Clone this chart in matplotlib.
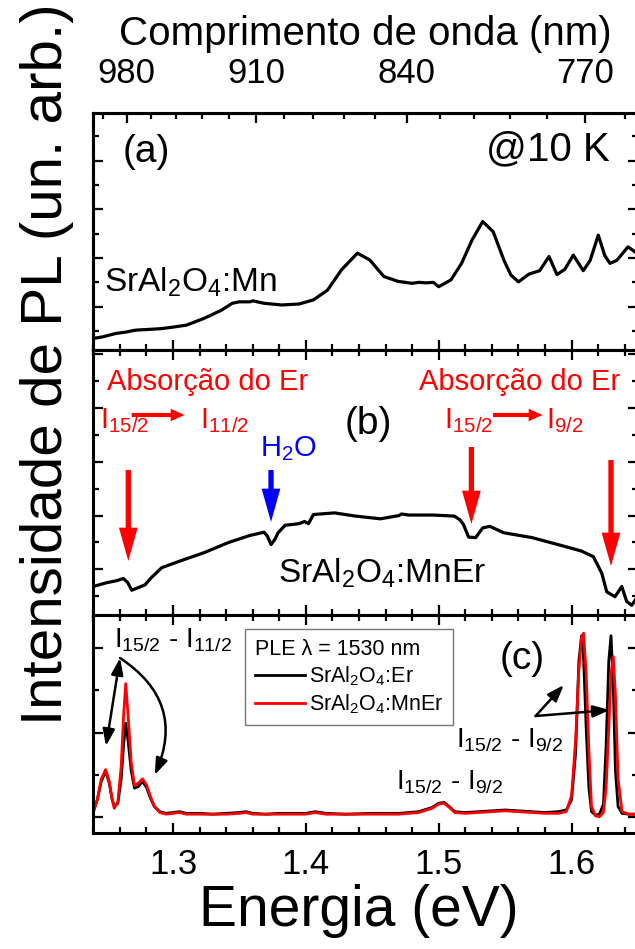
import matplotlib
matplotlib.use("Agg")
import matplotlib.pyplot as plt
from matplotlib.ticker import MultipleLocator, FixedLocator

plt.rcParams['font.family'] = ['Liberation Sans', 'DejaVu Sans']
plt.rcParams['mathtext.fontset'] = 'custom'
plt.rcParams['mathtext.rm'] = 'Liberation Sans'
plt.rcParams['mathtext.it'] = 'Liberation Sans:italic'
plt.rcParams['mathtext.bf'] = 'Liberation Sans:bold'

# ---------------- data ----------------
energy_a = [1.2405, 1.2470, 1.2570, 1.2650, 1.2700, 1.2730, 1.2800, 1.2915, 1.3000, 1.3100,
            1.3234, 1.3366, 1.3446, 1.3500, 1.3580, 1.3600, 1.3685, 1.3818, 1.3950, 1.4057,
            1.4163, 1.4269, 1.4388, 1.4481, 1.4587, 1.4694, 1.4800, 1.4850, 1.4906, 1.4960,
            1.5000, 1.5092, 1.5172, 1.5251, 1.5331, 1.5410, 1.5490, 1.5543, 1.5600, 1.5680,
            1.5760, 1.5830, 1.5890, 1.5950, 1.6013, 1.6088, 1.6140, 1.6201, 1.6250, 1.6289,
            1.6340, 1.6425, 1.6480]
pl_mn = [-0.65, -0.62, -0.55, -0.52, -0.49, -0.48, -0.47, -0.45, -0.42, -0.38,
         -0.24, -0.07, 0.07, 0.10, 0.10, 0.12, 0.07, 0.035, 0.055, 0.14,
         0.34, 0.76, 1.10, 0.96, 0.62, 0.52, 0.48, 0.50, 0.49, 0.50,
         0.41, 0.55, 0.89, 1.37, 1.75, 1.54, 0.96, 0.65, 0.51, 0.67,
         0.74, 1.03, 0.66, 0.77, 1.06, 0.74, 0.95, 1.47, 1.05, 0.89,
         0.95, 1.23, 1.12]

energy_b = [1.2400, 1.2500, 1.2580, 1.2626, 1.2660, 1.2689, 1.2720, 1.2789, 1.2835, 1.2915,
            1.3048, 1.3234, 1.3419, 1.3579, 1.3685, 1.3710, 1.3738, 1.3765, 1.3791, 1.3844,
            1.3950, 1.3990, 1.4020, 1.4057, 1.4216, 1.4375, 1.4561, 1.4700, 1.4720, 1.4773,
            1.4959, 1.5118, 1.5160, 1.5185, 1.5225, 1.5278, 1.5331, 1.5384, 1.5490, 1.5702,
            1.5913, 1.6074, 1.6164, 1.6227, 1.6265, 1.6327, 1.6378, 1.6415, 1.6453, 1.6480]
pl_mner = [-0.32, -0.25, -0.21, -0.17, -0.25, -0.39, -0.36, -0.29, -0.16, 0.03,
           0.15, 0.31, 0.50, 0.63, 0.69, 0.62, 0.46, 0.55, 0.68, 0.82,
           0.85, 0.89, 0.85, 1.02, 1.05, 0.99, 0.94, 1.00, 1.03, 1.01,
           1.01, 0.99, 0.92, 0.84, 0.60, 0.59, 0.77, 0.80, 0.68, 0.59,
           0.45, 0.34, 0.235, -0.07, -0.42, -0.51, -0.32, -0.60, -0.67, -0.57]

energy_c = [1.2400, 1.2430, 1.2460, 1.2493, 1.2520, 1.2540, 1.2558, 1.2585, 1.2610, 1.2628,
            1.2644, 1.2662, 1.2685, 1.2710, 1.2740, 1.2770, 1.2800, 1.2830, 1.2860, 1.2900,
            1.2950, 1.3000, 1.3050, 1.3100, 1.3200, 1.3300, 1.3400, 1.3500, 1.3550, 1.3600,
            1.3700, 1.3800, 1.3900, 1.4000, 1.4070, 1.4150, 1.4300, 1.4500, 1.4700, 1.4850,
            1.4950, 1.5000, 1.5040, 1.5080, 1.5120, 1.5200, 1.5300, 1.5400, 1.5500, 1.5600,
            1.5700, 1.5800, 1.5900, 1.5960, 1.6000, 1.6030, 1.6055, 1.6075, 1.6090, 1.6110,
            1.6130, 1.6150, 1.6180, 1.6210, 1.6240, 1.6260, 1.6280, 1.6297, 1.6314, 1.6330,
            1.6350, 1.6380, 1.6430, 1.6480]
ple_er = [0.07, 0.20, 0.42, 0.54, 0.40, 0.22, 0.12, 0.16, 0.45, 0.85,
          1.11, 0.90, 0.55, 0.34, 0.36, 0.42, 0.35, 0.22, 0.12, 0.06,
          0.04, 0.05, 0.06, 0.04, 0.04, 0.03, 0.04, 0.05, 0.06, 0.04,
          0.03, 0.04, 0.04, 0.04, 0.06, 0.04, 0.03, 0.04, 0.04, 0.06,
          0.11, 0.16, 0.17, 0.12, 0.06, 0.05, 0.06, 0.07, 0.08, 0.07,
          0.06, 0.05, 0.06, 0.08, 0.20, 0.75, 1.85, 2.15, 1.90, 1.05,
          0.35, 0.06, 0.02, 0.03, 0.15, 0.85, 1.85, 2.15, 1.55, 0.55,
          0.12, 0.04, 0.03, 0.03]
ple_mner = [0.05, 0.20, 0.45, 0.56, 0.42, 0.22, 0.10, 0.18, 0.60, 1.20,
            1.58, 1.20, 0.65, 0.37, 0.40, 0.45, 0.38, 0.24, 0.12, 0.05,
            0.03, 0.04, 0.05, 0.03, 0.03, 0.03, 0.03, 0.04, 0.05, 0.03,
            0.03, 0.03, 0.03, 0.03, 0.05, 0.03, 0.03, 0.03, 0.03, 0.05,
            0.10, 0.15, 0.16, 0.11, 0.05, 0.04, 0.05, 0.06, 0.07, 0.06,
            0.05, 0.04, 0.04, 0.06, 0.25, 0.90, 1.75, 2.12, 2.18, 1.70,
            0.80, 0.12, 0.01, 0.00, 0.05, 0.35, 1.05, 1.70, 1.90, 1.45,
            0.45, 0.06, 0.03, 0.03]

wavelength_major = [980, 910, 840, 770]
wavelength_minor = [994, 966, 952, 938, 924, 896, 882, 868, 854, 826, 812, 798, 784, 756]
HC = 1239.84

# ---------------- layout ----------------
W, H = 635, 949
fig = plt.figure(figsize=(W / 100, H / 100), dpi=100)


def fx(px):
    return px / W


def fy(py):
    return 1 - py / H


LEFT, RIGHT = 93.3, 638.0
tops = [113.3, 350.0, 615.0]
bots = [350.0, 615.0, 833.3]
ylims = [(-0.89, 3.973), (-0.851, 4.083), (-0.197, 2.396)]
XLIM = (1.24, 1.65)

axes = []
for t, b, yl in zip(tops, bots, ylims):
    ax = fig.add_axes([fx(LEFT), fy(b), fx(RIGHT - LEFT), (b - t) / H])
    ax.set_xlim(*XLIM)
    ax.set_ylim(*yl)
    ax.xaxis.set_major_locator(MultipleLocator(0.1))
    ax.xaxis.set_minor_locator(MultipleLocator(0.02))
    ax.yaxis.set_major_locator(MultipleLocator(1))
    ax.yaxis.set_minor_locator(MultipleLocator(0.5))
    ax.tick_params(which='both', direction='in', top=True, right=True,
                   labelleft=False, labelbottom=False, width=1.6)
    ax.tick_params(which='major', length=7)
    ax.tick_params(which='minor', length=4)
    for s in ax.spines.values():
        s.set_linewidth(2.2)
    axes.append(ax)

ax_a, ax_b, ax_c = axes
ax_a.tick_params(which='both', top=False)
ax_c.tick_params(which='major', labelbottom=True, labelsize=25, pad=10.5)

# top wavelength axis
ax_t = ax_a.twiny()
ax_t.set_xlim(*XLIM)
ax_t.xaxis.set_major_locator(FixedLocator([HC / w for w in wavelength_major]))
ax_t.xaxis.set_minor_locator(FixedLocator([HC / w for w in wavelength_minor]))
ax_t.set_xticklabels([str(w) for w in wavelength_major])
ax_t.tick_params(which='both', direction='in', width=1.6, labelsize=25, pad=17)
ax_t.tick_params(which='major', length=7)
ax_t.tick_params(which='minor', length=4)
for s in ax_t.spines.values():
    s.set_linewidth(2.2)

# ---------------- curves ----------------
ax_a.plot(energy_a, pl_mn, color='black', lw=2.3, solid_joinstyle='round')
ax_b.plot(energy_b, pl_mner, color='black', lw=2.3, solid_joinstyle='round')
l1, = ax_c.plot(energy_c, ple_er, color='black', lw=2.0, label=r'SrAl$_{\mathregular{2}}$O$_{\mathregular{4}}$:Er')
l2, = ax_c.plot(energy_c, ple_mner, color='#ff0000', lw=2.0, label=r'SrAl$_{\mathregular{2}}$O$_{\mathregular{4}}$:MnEr')

leg = ax_c.legend(handles=[l1, l2], title=u'PLE \u03bb = 1530 nm', loc='upper left',
                  bbox_to_anchor=(fx(245.3), fy(629.3)), bbox_transform=fig.transFigure,
                  borderaxespad=0, fontsize=15.5, title_fontsize=15.5, frameon=True,
                  fancybox=False, edgecolor='#555555', handlelength=2.3,
                  handletextpad=0.2, labelspacing=0.2, borderpad=0.45, alignment='left')
leg.get_frame().set_linewidth(1.0)

# ---------------- texts ----------------
def T(x, y, s, size, color='black', ha='left', va='baseline', **kw):
    fig.text(fx(x), fy(y), s, fontsize=size, color=color, ha=ha, va=va, **kw)

# axis titles
T(47, 364, 'Intensidade de PL (un. arb.)', 42, ha='center', va='center', rotation=90)
T(359, 926, 'Energia (eV)', 41, ha='center')
T(365, 45, 'Comprimento de onda (nm)', 29, ha='center')

# panel (a)
T(123, 162, '(a)', 28)
T(609.7, 160, '@10 K', 29, ha='right')
T(103.5, 292, r'SrAl$_{\mathregular{2}}$O$_{\mathregular{4}}$:Mn', 24)

# panel (b)
RED = '#ff0000'
T(107, 390, 'Absorção do Er', 21, RED)
T(419, 390, 'Absorção do Er', 21, RED)
T(100, 428, r'I$_{\mathregular{15/2}}$', 21, RED)
T(200.5, 428, r'I$_{\mathregular{11/2}}$', 21, RED)
T(444, 428, r'I$_{\mathregular{15/2}}$', 21, RED)
T(546, 428, r'I$_{\mathregular{9/2}}$', 21, RED)
T(345, 434, '(b)', 28)
T(260, 456, r'H$_{\mathregular{2}}$O', 21, '#0000ff')
T(278, 583, r'SrAl$_{\mathregular{2}}$O$_{\mathregular{4}}$:MnEr', 24)

# panel (c)
T(114, 647, r'I$_{\mathregular{15/2}}$ - I$_{\mathregular{11/2}}$', 20)
T(500, 669, '(c)', 28)
T(456, 748, r'I$_{\mathregular{15/2}}$ - I$_{\mathregular{9/2}}$', 20)
T(396, 790, r'I$_{\mathregular{15/2}}$ - I$_{\mathregular{9/2}}$', 20)

# ---------------- arrows ----------------
def arrow(x0, y0, x1, y1, style, color, ms=10, lw=0.0, conn='arc3'):
    fig.add_artist(matplotlib.patches.FancyArrowPatch(
        (fx(x0), fy(y0)), (fx(x1), fy(y1)), transform=fig.transFigure,
        arrowstyle=style, color=color, mutation_scale=ms, lw=lw,
        shrinkA=0, shrinkB=0, connectionstyle=conn))

big = 'simple,head_length=2.4,head_width=1.35,tail_width=0.38'
arrow(128.3, 470, 128.3, 561, big, RED)
arrow(471.4, 447, 471.4, 524, big, RED)
arrow(611, 460, 611, 566, big, RED)
arrow(271, 470, 271, 522, big, '#0000ff')
small = 'simple,head_length=1.0,head_width=0.9,tail_width=0.3'
arrow(131.7, 415, 184.6, 415, small, RED)
arrow(493, 415, 542.6, 415, small, RED)

thin = '-|>,head_length=0.5,head_width=0.18'
arrow(120, 658, 106, 746, '<|-|>,head_length=0.5,head_width=0.18', 'black', ms=20, lw=1.8)
arrow(120, 658, 154.7, 775, thin, 'black', ms=20, lw=1.8, conn='arc3,rad=-0.42')
arrow(535.6, 716, 563.8, 685, thin, 'black', ms=20, lw=1.8)
arrow(535.6, 716, 609.7, 710, thin, 'black', ms=20, lw=1.8)

fig.savefig('out.png', dpi=100)
